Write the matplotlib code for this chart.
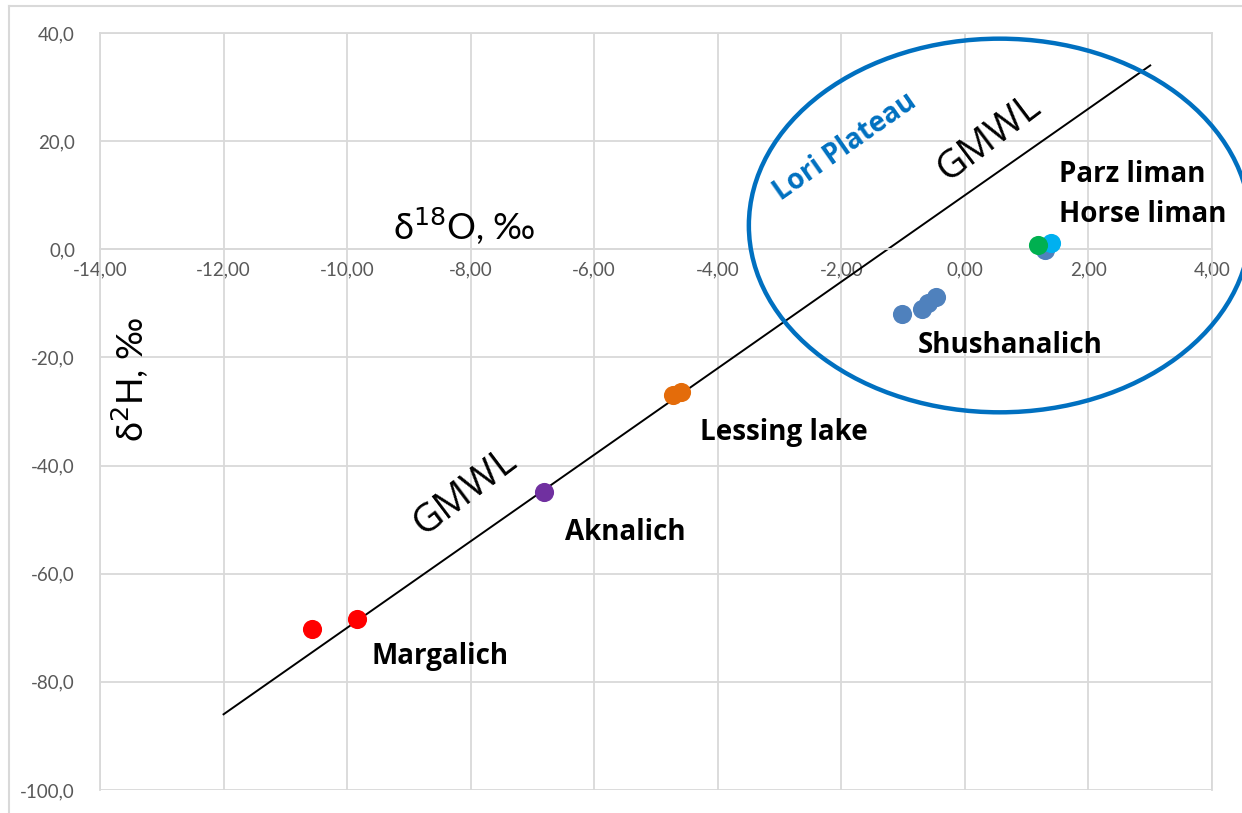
import matplotlib
matplotlib.use("Agg")
import matplotlib.pyplot as plt
from matplotlib.patches import Ellipse
from matplotlib.lines import Line2D
import numpy as np

plt.rcParams['font.family'] = ['Lato', 'DejaVu Sans']

# Isotope data: δ18O (‰) and δ2H (‰)
margalich_o = [-10.57, -9.84]
margalich_h = [-70.2, -68.4]
aknalich_o = [-6.81]
aknalich_h = [-44.9]
lessing_o = [-4.72, -4.59]
lessing_h = [-27.0, -26.4]
shushan_o = [-1.02, -0.70, -0.60, -0.47]
shushan_h = [-12.0, -11.1, -10.0, -8.9]
horse_extra_o = [1.30]
horse_extra_h = [-0.2]
parz_o = [1.40]
parz_h = [1.2]
horse_o = [1.19]
horse_h = [0.74]

# Global meteoric water line: δ2H = 8·δ18O + 10
gmwl_x = [-12.0, 3.0]
gmwl_slope = 8.0
gmwl_icpt = 10.0

x_ticks = [-14, -12, -10, -8, -6, -4, -2, 0, 2, 4]
y_ticks = [-100, -80, -60, -40, -20, 0, 20, 40]

grid_c = '#D9D9D9'
tick_c = '#595959'
label_font = ['Open Sans', 'DejaVu Sans']

fig = plt.figure(figsize=(12.42, 8.13), dpi=100)
ax = fig.add_axes([100/1242, 1-790/813, 1112/1242, 757/813])
ax.set_xlim(-14, 4)
ax.set_ylim(-100, 40)

# chart frame
fig.add_artist(Line2D([9/1242, 9/1242], [0, 1-6/813], color=grid_c, lw=1.5))
fig.add_artist(Line2D([9/1242, 1], [1-6/813, 1-6/813], color=grid_c, lw=1.5))

ax.set_xticks(x_ticks)
ax.set_yticks(y_ticks)
ax.set_xticklabels([f"{v:.2f}".replace('.', ',') for v in x_ticks])
ax.set_yticklabels([f"{v:.1f}".replace('.', ',') for v in y_ticks])
ax.grid(True, color=grid_c, lw=1.3, zorder=0)
ax.set_axisbelow(True)
for s in ax.spines.values():
    s.set_color(grid_c)
    s.set_linewidth(1.3)
ax.spines['bottom'].set_position(('data', 0))
ax.tick_params(length=0, labelsize=13.5, colors=tick_c)
ax.tick_params(axis='x', pad=9)
ax.tick_params(axis='y', pad=18)

gx = np.array(gmwl_x)
ax.plot(gx, gmwl_slope * gx + gmwl_icpt, color='black', lw=1.4, zorder=2)

ms = 190
ax.scatter(margalich_o, margalich_h, s=ms, color='#FF0000', zorder=3, lw=0)
ax.scatter(aknalich_o, aknalich_h, s=ms, color='#7030A0', zorder=3, lw=0)
ax.scatter(lessing_o, lessing_h, s=ms, color='#E46C0A', zorder=3, lw=0)
ax.scatter(shushan_o, shushan_h, s=ms, color='#4F81BD', zorder=3, lw=0)
ax.scatter(horse_extra_o, horse_extra_h, s=ms, color='#4F81BD', zorder=3, lw=0)
ax.scatter(parz_o, parz_h, s=ms, color='#00B0F0', zorder=4, lw=0)
ax.scatter(horse_o, horse_h, s=ms, color='#00B050', zorder=5, lw=0)

lab = dict(fontsize=20, fontweight='bold', color='black', va='center', ha='left',
           family=label_font)
ax.text(-9.60, -75.4, 'Margalich', **lab)
ax.text(-6.48, -52.4, 'Aknalich', **lab)
ax.text(-4.29, -33.9, 'Lessing lake', **lab)
ax.text(-0.76, -17.8, 'Shushanalich', **lab)
ax.text(1.53, 13.9, 'Parz liman', **lab)
ax.text(1.53, 6.5, 'Horse liman', **lab)

ax.text(0.40, 20.5, 'GMWL', fontsize=28, rotation=37, ha='center', va='center',
        rotation_mode='anchor', family=label_font)
ax.text(-8.09, -45.0, 'GMWL', fontsize=28, rotation=37, ha='center', va='center',
        rotation_mode='anchor', family=label_font)

ax.text(-1.94, 19.0, 'Lori Plateau', fontsize=20, fontweight='bold', color='#0070C0',
        rotation=35, ha='center', va='center', rotation_mode='anchor', family=label_font)

ax.text(-8.1, 4.2, r'δ$^{18}$O, ‰', fontsize=26, ha='center', va='center')
ax.text(-13.5, -24.0, r'δ$^{2}$H, ‰', fontsize=26, ha='center', va='center', rotation=90)

ell = Ellipse((0.563, 4.4), 8.12, 69.1, fill=False, edgecolor='#0070C0', lw=3.2,
              clip_on=False, zorder=6)
ax.add_patch(ell)

fig.savefig('out.png', dpi=100)
